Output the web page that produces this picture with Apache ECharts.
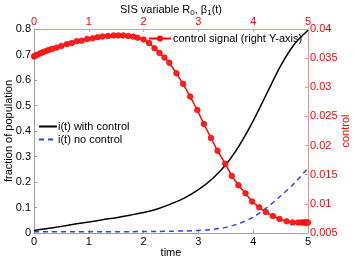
<!DOCTYPE html>
<html><head><meta charset="utf-8">
<script src="https://cdn.jsdelivr.net/npm/echarts@6/dist/echarts.min.js"></script>
<style>html,body{margin:0;padding:0;background:#fff}#c{width:354px;height:262px}</style>
</head><body><div id="c"></div>
<script>
var timeT = [0,0.25,0.5,0.75,1,1.25,1.5,1.75,2,2.25,2.5,2.75,3,3.25,3.5,3.75,4,4.25,4.5,4.75,5];
var withControl = [0.010,0.018,0.026,0.035,0.043,0.052,0.060,0.070,0.080,0.094,0.114,0.138,0.170,0.212,0.268,0.345,0.440,0.548,0.655,0.740,0.795];
var noControl = [0.005,0.005,0.005,0.005,0.005,0.005,0.005,0.005,0.006,0.006,0.007,0.008,0.010,0.014,0.022,0.038,0.062,0.100,0.145,0.195,0.255];
var controlT = [0,0.02,0.06,0.11,0.16,0.21,0.27,0.33,0.41,0.50,0.60,0.69,0.78,0.87,0.97,1.07,1.16,1.25,1.35,1.45,1.54,1.63,1.72,1.81,1.89,2.00,2.10,2.20,2.29,2.38,2.47,2.60,2.72,2.85,2.98,3.10,3.23,3.35,3.49,3.61,3.73,3.86,3.98,4.11,4.23,4.36,4.48,4.61,4.72,4.82,4.88,4.92,4.95,4.97,4.99,5.0];
var controlU = [0.0353,0.0354,0.0356,0.0358,0.0360,0.0362,0.0364,0.0366,0.0368,0.0371,0.0374,0.0376,0.0379,0.0380,0.0383,0.0384,0.0386,0.0387,0.0388,0.0389,0.0389,0.0389,0.0388,0.0387,0.0385,0.0382,0.0376,0.0367,0.0359,0.0351,0.0342,0.0324,0.0306,0.0284,0.0261,0.0237,0.0213,0.0191,0.0169,0.0148,0.0132,0.0118,0.0104,0.0094,0.0086,0.0079,0.0074,0.0070,0.0068,0.0068,0.0068,0.0068,0.0068,0.0068,0.0068,0.0068];
var timeTicks = [0,1,2,3,4,5];

function zip(a,b){return a.map(function(v,i){return [v,b[i]];});}
var FONT = 'Liberation Sans';
var chart = echarts.init(document.getElementById('c'), null, {renderer:'canvas'});
chart.setOption({
  animation:false,
  textStyle:{fontFamily:FONT},
  grid:{left:34,right:46,top:29,bottom:29,containLabel:false,outerBoundsMode:'none'},
  xAxis:[
    {type:'value',position:'bottom',min:0,max:5,interval:1,
     name:'time',nameLocation:'middle',nameGap:14,nameMoveOverlap:false,nameTextStyle:{color:'#000',fontSize:11,fontFamily:FONT},
     axisLine:{show:true,onZero:false,lineStyle:{color:'#a0a0a0',width:1}},
     axisTick:{show:true,inside:true,length:3,lineStyle:{color:'#a0a0a0'}},
     axisLabel:{color:'#000',fontSize:11,margin:3,fontFamily:FONT},
     splitLine:{show:false}},
    {type:'value',position:'top',min:0,max:5,interval:1,
     name:'SIS variable R{sub|0}, β{sub|1}(t)',nameLocation:'middle',nameGap:12,nameMoveOverlap:false,
     nameTextStyle:{color:'#000',fontSize:11,fontFamily:FONT,lineHeight:14,
       rich:{sub:{fontSize:8,fontFamily:FONT,color:'#000',verticalAlign:'bottom',lineHeight:14,padding:[5,0,0,0]}}},
     axisLine:{show:true,onZero:false,lineStyle:{color:'#f89090',width:1}},
     axisTick:{show:true,inside:true,length:3,lineStyle:{color:'#f89090'}},
     axisLabel:{color:'#ff0000',fontSize:11,margin:2,fontFamily:FONT},
     splitLine:{show:false}}
  ],
  yAxis:[
    {type:'value',position:'left',min:0,max:0.8,interval:0.1,
     name:'fraction of population',nameLocation:'middle',nameGap:20,nameRotate:90,nameMoveOverlap:false,
     nameTextStyle:{color:'#000',fontSize:11,fontFamily:FONT},
     axisLine:{show:true,onZero:false,lineStyle:{color:'#a0a0a0',width:1}},
     axisTick:{show:true,inside:true,length:3,lineStyle:{color:'#a0a0a0'}},
     axisLabel:{color:'#000',fontSize:11,margin:3,fontFamily:FONT,
       formatter:function(v){return String(parseFloat(v.toFixed(2)));}},
     splitLine:{show:false}},
    {type:'value',position:'right',min:0.005,max:0.04,interval:0.005,
     name:'control',nameLocation:'middle',nameGap:32,nameRotate:90,nameMoveOverlap:false,
     nameTextStyle:{color:'#ff0000',fontSize:11,fontFamily:FONT},
     axisLine:{show:true,onZero:false,lineStyle:{color:'#f89090',width:1}},
     axisTick:{show:true,inside:true,length:3,lineStyle:{color:'#f89090'}},
     axisLabel:{color:'#ff0000',fontSize:11,margin:2,fontFamily:FONT,
       formatter:function(v){return String(parseFloat(v.toFixed(3)));}},
     splitLine:{show:false}}
  ],
  legend:[
    {data:['control signal (right Y-axis)'],left:148,top:33,itemWidth:22,itemHeight:5,
     textStyle:{fontSize:11,color:'#000',fontFamily:FONT,padding:[0,0,0,-3]},padding:0},
    {data:[{name:'i(t) with control',itemStyle:{opacity:0}},{name:'i(t) no control',itemStyle:{opacity:0}}],
     orient:'vertical',left:38,top:121,itemGap:2,itemWidth:18,itemHeight:8,
     textStyle:{fontSize:11,color:'#000',fontFamily:FONT,padding:[0,0,0,-4]},padding:0}
  ],
  series:[
    {name:'i(t) with control',type:'line',xAxisIndex:0,yAxisIndex:0,data:zip(timeT,withControl),
     smooth:0.3,symbol:'none',lineStyle:{color:'#000',width:1.5},itemStyle:{color:'#000'}},
    {name:'i(t) no control',type:'line',xAxisIndex:0,yAxisIndex:0,data:zip(timeT,noControl),
     smooth:0.3,symbol:'none',lineStyle:{color:'#2244ff',width:1.5,type:[5,4]},itemStyle:{color:'#2244ff'}},
    {name:'control signal (right Y-axis)',type:'line',xAxisIndex:0,yAxisIndex:1,data:zip(controlT,controlU),
     symbol:'circle',symbolSize:5.5,showSymbol:true,lineStyle:{color:'#ff0000',width:1.5},
     itemStyle:{color:'#ff2020',borderColor:'#ff0000',borderWidth:0.8}}
  ]
});
</script></body></html>
